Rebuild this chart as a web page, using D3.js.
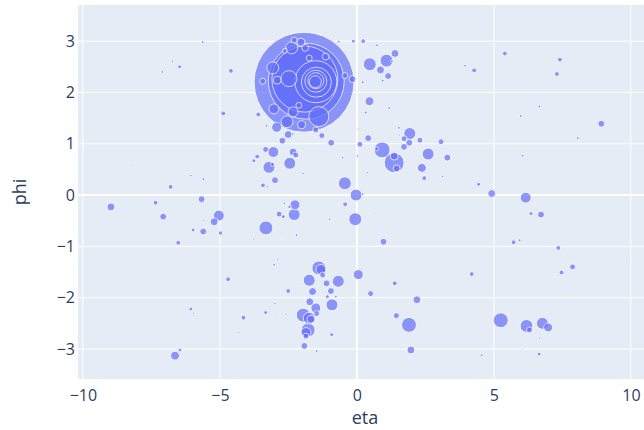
<!DOCTYPE html>
<html><head><meta charset="utf-8">
<script src="https://cdn.jsdelivr.net/npm/d3@7"></script>
<style>body{margin:0;background:#fff}</style>
</head><body><svg id="c" width="644" height="430"></svg>
<script>
// eta, phi and pt of each particle (parallel arrays)
const etaValues = [
 -1.93,-1.85,-1.90,-1.50,-1.48,-1.50,-1.50,-1.52,-1.39,-2.38,-2.04,-2.29,-1.89,-2.63,-1.74,-1.14,-3.07,-2.91,-3.44,-0.44,
 -0.16,-2.12,-3.03,-2.55,-2.02,-2.93,-3.60,-3.30,-2.72,-2.51,-2.34,-1.28,-0.94,-2.48,-2.33,-1.50,
 -0.66,-0.13,0.23,0.73,0.47,1.08,1.39,1.28,0.86,1.14,0.94,0.21,1.81,0.46,0.32,1.18,0.06,0.41,0.11,0.02,0.38,1.53,1.55,1.93,
 1.72,1.91,2.30,1.72,0.92,0.72,1.36,1.36,1.45,2.60,3.07,3.30,2.37,2.46,3.13,4.44,4.92,6.16,6.35,6.72,
 -0.03,0.21,-0.06,0.68,5.40,3.95,4.28,7.41,7.30,6.30,6.66,5.98,6.02,6.05,8.06,8.92,8.45,
 0.97,4.43,5.72,5.94,7.35,7.87,7.47,9.72,7.46,4.19,1.38,3.66,2.19,1.44,1.90,1.97,4.55,5.25,6.19,6.30,6.77,6.98,6.67,5.82,6.06,6.65,0.50,0.05,
 -3.32,-2.20,-3.78,-0.32,-2.90,-3.02,-1.39,-1.31,-1.25,-1.74,-0.68,-1.11,-2.30,-2.51,-1.62,-0.95,-1.08,-0.77,-0.38,-1.72,
 -2.99,-0.91,-1.50,-3.33,-2.96,-2.77,-2.59,-1.96,-1.74,-1.68,-1.47,-1.53,-1.78,-1.86,-1.86,-0.92,-1.92,-1.47,
 -3.33,-3.05,-2.33,-2.23,-3.64,-3.76,-2.45,-3.21,-3.08,-2.99,-3.43,-3.26,-2.75,-1.97,-0.44,-0.52,-2.26,-2.46,-2.65,-0.43,
 -4.30,-2.84,-2.69,-2.29,-2.76,-1.00,-0.78,-0.67,
 -8.17,-8.98,-6.80,-7.35,-6.06,-5.60,-5.67,-7.07,-5.04,-5.21,-5.59,-5.98,-5.61,-4.98,-6.52,-4.70,-6.06,-5.96,-4.14,-4.31,
 -6.64,-6.46,-5.63,-4.30,-6.73,-6.47,-7.10,-4.60,-4.88,-6.55
];
const phiValues = [
 2.20,2.22,2.26,2.21,2.20,2.22,2.23,2.21,1.53,2.87,2.98,3.02,2.87,2.81,2.67,2.70,2.48,2.24,2.22,2.33,
 2.26,1.75,1.68,1.43,1.37,1.32,1.57,1.35,1.06,1.18,1.19,1.16,1.02,2.27,1.62,1.27,
 2.99,3.00,3.00,2.92,2.55,2.62,2.76,2.61,2.44,2.32,2.23,2.20,2.49,1.83,1.61,1.70,1.29,1.11,0.99,0.76,0.44,1.31,1.17,1.20,
 1.10,1.02,1.07,0.94,0.88,0.90,0.63,0.76,0.52,0.80,1.04,0.73,0.53,0.33,0.36,0.21,0.03,-0.05,-0.36,-0.38,
 0.00,0.02,-0.47,-0.36,2.76,2.52,2.43,2.64,2.36,1.97,1.73,1.54,1.18,0.77,1.11,1.39,1.73,
 -0.91,-0.82,-0.92,-0.88,-1.03,-1.40,-1.51,-1.22,-1.84,-1.54,-1.72,-1.92,-2.04,-2.35,-2.53,-3.02,-3.12,-2.44,-2.55,-2.63,-2.50,-2.58,-2.79,-3.02,-3.00,-3.10,-1.92,-1.55,
 -0.64,-0.78,-0.86,-1.10,-1.25,-1.36,-1.42,-1.45,-1.56,-1.66,-1.68,-1.72,-1.77,-1.87,-1.88,-1.87,-1.98,-1.98,-2.01,-2.08,
 -2.11,-2.14,-2.20,-2.29,-2.35,-2.32,-2.32,-2.34,-2.40,-2.42,-2.31,-2.55,-2.63,-2.68,-2.75,-2.72,-2.94,-3.04,
 0.89,0.84,0.84,0.78,0.75,0.67,0.62,0.54,0.60,0.29,0.19,0.16,0.11,0.42,0.23,0.73,-0.19,-0.23,-0.16,-0.18,
 -0.26,-0.37,-0.42,-0.38,-0.73,-0.47,-0.52,-0.66,
 0.57,-0.23,0.16,-0.15,0.38,0.31,-0.08,-0.42,-0.40,-0.52,-0.50,-0.68,-0.71,-0.74,-0.93,-1.64,-2.22,-2.31,-2.39,-2.68,
 -3.13,-3.02,2.98,2.79,2.61,2.50,2.40,2.42,1.59,1.73
];
const ptValues = [
 2500,1444,1089,441,225,121,64,36,100,36,16,9,12,6,9,12,36,16,9,9,
 12,9,25,36,16,25,6,2,12,16,2,9,12,64,25,9,
 2,4,6,2,42,42,16,2,16,12,2,2,0.6,20,2,2,1,12,9,1.7,1,2,1,36,
 9,12,9,12,64,4,100,16,12,36,9,12,20,6,1.4,4,16,30,4,12,
 36,2,42,0.6,6,2,6,6,6,0.6,2,2,0.5,1.7,2,12,0.4,
 12,0.5,6,2,6,9,6,0.6,0.6,6,6,0.5,16,9,56,16,2,56,42,9,36,20,1,0.6,1,4,9,25,
 49,2,1,0.6,1,2,49,25,9,36,36,12,0.6,6,16,12,4,2,0.5,16,
 1.4,36,25,4,0.6,0.6,1.4,49,36,16,9,1,49,25,9,4,12,2,
 9,30,16,9,6,4,36,36,4,12,6,1.4,0.6,1.4,42,1.4,25,3,1.4,6,
 0.5,9,4,36,0.6,1.4,0.6,0.6,
 1,16,6,6,1.4,2,12,12,30,16,1,4,12,5,6,6,4,1,6,1,
 20,4,2,0.5,1.4,4,2,6,6,0.4
];
const xTicks = [-10, -5, 0, 5, 10];
const yTicks = [-3, -2, -1, 0, 1, 2, 3];
const xTitle = "eta", yTitle = "phi";

const svg = d3.select("#c");
const L = 78, R = 652, T = 5, B = 379;
const x = d3.scaleLinear().domain([-10.18, 10.77]).range([L, R]);
const y = d3.scaleLinear().domain([-3.585, 3.705]).range([B, T]);
const rScale = d3.scaleSqrt().domain([0, 2500]).range([0, 50]);

svg.append("rect").attr("x", L).attr("y", T).attr("width", R - L).attr("height", B - T).attr("fill", "#e5ecf6");

// grid
svg.append("g").selectAll("line").data(xTicks).join("line")
  .attr("x1", d => x(d)).attr("x2", d => x(d)).attr("y1", T).attr("y2", B)
  .attr("stroke", "#fff").attr("stroke-width", d => d === 0 ? 2 : 1);
svg.append("g").selectAll("line").data(yTicks).join("line")
  .attr("y1", d => y(d)).attr("y2", d => y(d)).attr("x1", L).attr("x2", R)
  .attr("stroke", "#fff").attr("stroke-width", d => d === 0 ? 2 : 1);

svg.append("clipPath").attr("id", "clip").append("rect")
  .attr("x", L).attr("y", T).attr("width", R - L).attr("height", B - T);

const pts = etaValues.map((e, i) => ({eta: e, phi: phiValues[i], pt: ptValues[i]}))
  .sort((a, b) => b.pt - a.pt);

svg.append("g").attr("clip-path", "url(#clip)").selectAll("circle").data(pts).join("circle")
  .attr("cx", d => x(d.eta)).attr("cy", d => y(d.phi)).attr("r", d => rScale(d.pt))
  .attr("fill", "#636efa").attr("opacity", 0.7)
  .attr("stroke", "#fff").attr("stroke-width", 1);

// axes
const fnt = "'Open Sans', sans-serif";
const xa = svg.append("g").attr("transform", `translate(0,${B})`)
  .call(d3.axisBottom(x).tickValues(xTicks).tickSize(0).tickPadding(11));
const ya = svg.append("g").attr("transform", `translate(${L},0)`)
  .call(d3.axisLeft(y).tickValues(yTicks).tickSize(0).tickPadding(3));
[xa, ya].forEach(a => {
  a.select(".domain").remove();
  a.selectAll("text").attr("font-family", fnt).attr("font-size", 16).attr("fill", "#2a3f5f");
});

svg.append("text").attr("x", 365).attr("y", 424).attr("text-anchor", "middle")
  .attr("font-family", fnt).attr("font-size", 18).attr("fill", "#2a3f5f").text(xTitle);
svg.append("text").attr("transform", "translate(26,192) rotate(-90)").attr("text-anchor", "middle")
  .attr("font-family", fnt).attr("font-size", 18).attr("fill", "#2a3f5f").text(yTitle);
</script></body></html>
